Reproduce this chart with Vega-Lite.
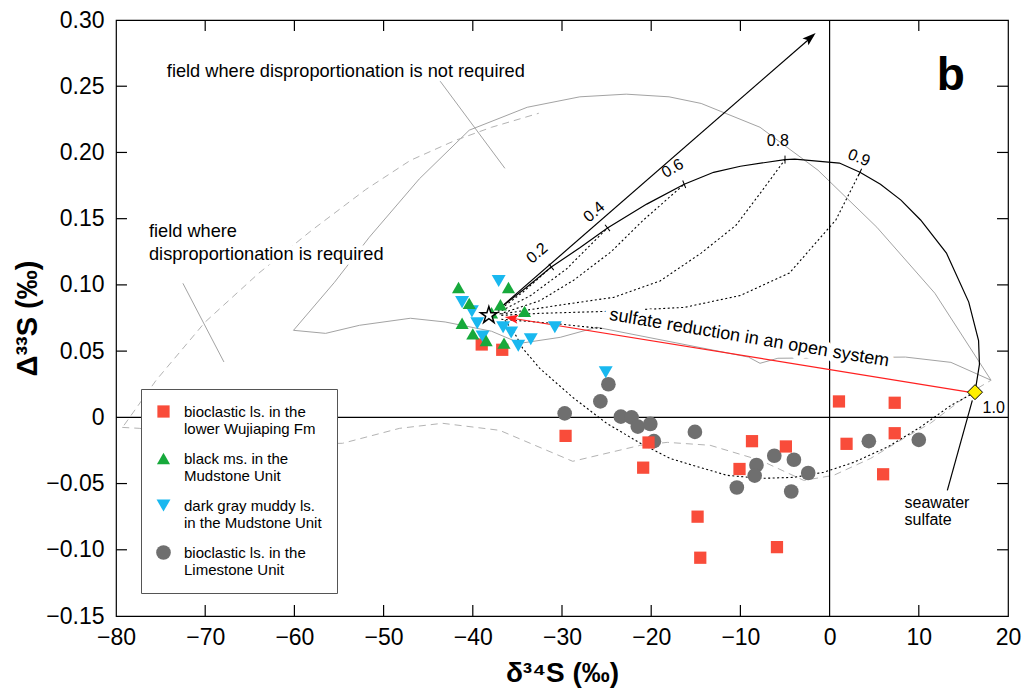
{
  "$schema": "https://vega.github.io/schema/vega-lite/v6.json",
  "width": 892,
  "height": 596,
  "autosize": {"type": "none"},
  "padding": {"left": 116, "top": 20, "right": 15, "bottom": 75},
  "background": "white",
  "config": {
    "font": "Liberation Sans",
    "view": {"stroke": "black", "strokeWidth": 1.2},
    "axis": {"grid": false, "domain": false, "labelColor": "black", "tickColor": "black", "titleColor": "black", "labelFont": "Liberation Sans", "titleFont": "Liberation Sans"},
    "text": {"font": "Liberation Sans"}
  },
  "resolve": {"axis": {"x": "independent", "y": "independent"}, "scale": {"x": "shared", "y": "shared"}},
  "datasets": {
    "pts": [
      {"g": "bioclastic ls. in the|Limestone Unit", "x": -24.8, "y": 0.025},
      {"g": "bioclastic ls. in the|Limestone Unit", "x": -25.7, "y": 0.012},
      {"g": "bioclastic ls. in the|Limestone Unit", "x": -29.7, "y": 0.003},
      {"g": "bioclastic ls. in the|Limestone Unit", "x": -23.4, "y": 0.0005},
      {"g": "bioclastic ls. in the|Limestone Unit", "x": -22.2, "y": 0.0},
      {"g": "bioclastic ls. in the|Limestone Unit", "x": -21.5, "y": -0.007},
      {"g": "bioclastic ls. in the|Limestone Unit", "x": -20.1, "y": -0.005},
      {"g": "bioclastic ls. in the|Limestone Unit", "x": -19.7, "y": -0.018},
      {"g": "bioclastic ls. in the|Limestone Unit", "x": -15.1, "y": -0.011},
      {"g": "bioclastic ls. in the|Limestone Unit", "x": -6.2, "y": -0.029},
      {"g": "bioclastic ls. in the|Limestone Unit", "x": -4.0, "y": -0.032},
      {"g": "bioclastic ls. in the|Limestone Unit", "x": -8.2, "y": -0.036},
      {"g": "bioclastic ls. in the|Limestone Unit", "x": -8.4, "y": -0.044},
      {"g": "bioclastic ls. in the|Limestone Unit", "x": -2.4, "y": -0.042},
      {"g": "bioclastic ls. in the|Limestone Unit", "x": -10.4, "y": -0.053},
      {"g": "bioclastic ls. in the|Limestone Unit", "x": -4.3, "y": -0.056},
      {"g": "bioclastic ls. in the|Limestone Unit", "x": 4.4, "y": -0.018},
      {"g": "bioclastic ls. in the|Limestone Unit", "x": 10.0, "y": -0.017},
      {"g": "bioclastic ls. in the|lower Wujiaping Fm", "x": -39.0, "y": 0.055},
      {"g": "bioclastic ls. in the|lower Wujiaping Fm", "x": -36.7, "y": 0.051},
      {"g": "bioclastic ls. in the|lower Wujiaping Fm", "x": -29.6, "y": -0.014},
      {"g": "bioclastic ls. in the|lower Wujiaping Fm", "x": -20.3, "y": -0.019},
      {"g": "bioclastic ls. in the|lower Wujiaping Fm", "x": -20.9, "y": -0.038},
      {"g": "bioclastic ls. in the|lower Wujiaping Fm", "x": -14.8, "y": -0.075},
      {"g": "bioclastic ls. in the|lower Wujiaping Fm", "x": -14.5, "y": -0.106},
      {"g": "bioclastic ls. in the|lower Wujiaping Fm", "x": -8.7, "y": -0.018},
      {"g": "bioclastic ls. in the|lower Wujiaping Fm", "x": -4.9, "y": -0.022},
      {"g": "bioclastic ls. in the|lower Wujiaping Fm", "x": -10.1, "y": -0.039},
      {"g": "bioclastic ls. in the|lower Wujiaping Fm", "x": -5.9, "y": -0.098},
      {"g": "bioclastic ls. in the|lower Wujiaping Fm", "x": 1.05, "y": 0.012},
      {"g": "bioclastic ls. in the|lower Wujiaping Fm", "x": 7.3, "y": 0.011},
      {"g": "bioclastic ls. in the|lower Wujiaping Fm", "x": 1.9, "y": -0.020},
      {"g": "bioclastic ls. in the|lower Wujiaping Fm", "x": 7.3, "y": -0.012},
      {"g": "bioclastic ls. in the|lower Wujiaping Fm", "x": 6.0, "y": -0.043},
      {"g": "dark gray muddy ls.|in the Mudstone Unit", "x": -37.1, "y": 0.103},
      {"g": "dark gray muddy ls.|in the Mudstone Unit", "x": -41.2, "y": 0.087},
      {"g": "dark gray muddy ls.|in the Mudstone Unit", "x": -40.1, "y": 0.080},
      {"g": "dark gray muddy ls.|in the Mudstone Unit", "x": -39.5, "y": 0.071},
      {"g": "dark gray muddy ls.|in the Mudstone Unit", "x": -38.9, "y": 0.061},
      {"g": "black ms. in the|Mudstone Unit", "x": -41.6, "y": 0.098},
      {"g": "black ms. in the|Mudstone Unit", "x": -36.0, "y": 0.098},
      {"g": "black ms. in the|Mudstone Unit", "x": -40.4, "y": 0.086},
      {"g": "black ms. in the|Mudstone Unit", "x": -36.9, "y": 0.085},
      {"g": "black ms. in the|Mudstone Unit", "x": -34.2, "y": 0.080},
      {"g": "black ms. in the|Mudstone Unit", "x": -41.2, "y": 0.071},
      {"g": "black ms. in the|Mudstone Unit", "x": -40.0, "y": 0.063},
      {"g": "black ms. in the|Mudstone Unit", "x": -38.5, "y": 0.058},
      {"g": "black ms. in the|Mudstone Unit", "x": -37.9, "y": 0.079},
      {"g": "dark gray muddy ls.|in the Mudstone Unit", "x": -36.6, "y": 0.068},
      {"g": "dark gray muddy ls.|in the Mudstone Unit", "x": -35.7, "y": 0.064},
      {"g": "dark gray muddy ls.|in the Mudstone Unit", "x": -34.9, "y": 0.054},
      {"g": "dark gray muddy ls.|in the Mudstone Unit", "x": -33.5, "y": 0.059},
      {"g": "dark gray muddy ls.|in the Mudstone Unit", "x": -30.8, "y": 0.068},
      {"g": "dark gray muddy ls.|in the Mudstone Unit", "x": -25.1, "y": 0.034},
      {"g": "black ms. in the|Mudstone Unit", "x": -36.5, "y": 0.056}
    ],
    "gray": [
      {"c": "upper", "x": -60.1, "y": 0.0657},
      {"c": "upper", "x": -55.5, "y": 0.102},
      {"c": "upper", "x": -51.6, "y": 0.136},
      {"c": "upper", "x": -46.0, "y": 0.18},
      {"c": "upper", "x": -40.4, "y": 0.2168},
      {"c": "upper", "x": -33.9, "y": 0.2341},
      {"c": "upper", "x": -28.0, "y": 0.242},
      {"c": "upper", "x": -22.8, "y": 0.244},
      {"c": "upper", "x": -18.0, "y": 0.242},
      {"c": "upper", "x": -14.4, "y": 0.237},
      {"c": "upper", "x": -7.8, "y": 0.219},
      {"c": "upper", "x": -1.3, "y": 0.1866},
      {"c": "upper", "x": 5.3, "y": 0.1435},
      {"c": "upper", "x": 11.8, "y": 0.0937},
      {"c": "upper", "x": 18.1, "y": 0.028},
      {"c": "lower", "x": -60.1, "y": 0.0657},
      {"c": "lower", "x": -56.5, "y": 0.0634},
      {"c": "lower", "x": -52.7, "y": 0.0695},
      {"c": "lower", "x": -47.0, "y": 0.0748},
      {"c": "lower", "x": -43.1, "y": 0.072},
      {"c": "lower", "x": -37.9, "y": 0.065},
      {"c": "lower", "x": -34.7, "y": 0.0559},
      {"c": "lower", "x": -30.2, "y": 0.0604},
      {"c": "lower", "x": -26.1, "y": 0.068},
      {"c": "lower", "x": -9.1, "y": 0.0455},
      {"c": "lower", "x": -7.8, "y": 0.0408},
      {"c": "lower", "x": -5.8, "y": 0.0446},
      {"c": "lower", "x": 8.5, "y": 0.0455},
      {"c": "lower", "x": 13.6, "y": 0.0415},
      {"c": "lower", "x": 18.1, "y": 0.028},
      {"c": "lead1", "x": -43.9, "y": 0.256},
      {"c": "lead1", "x": -36.4, "y": 0.188},
      {"c": "lead2", "x": -72.5, "y": 0.1012},
      {"c": "lead2", "x": -67.9, "y": 0.0418}
    ],
    "dashed": [
      {"c": "up", "x": -79.1, "y": -0.006},
      {"c": "up", "x": -75.5, "y": 0.028},
      {"c": "up", "x": -70.0, "y": 0.072},
      {"c": "up", "x": -64.0, "y": 0.1088},
      {"c": "up", "x": -58.1, "y": 0.141},
      {"c": "up", "x": -52.0, "y": 0.172},
      {"c": "up", "x": -47.0, "y": 0.194},
      {"c": "up", "x": -42.0, "y": 0.209},
      {"c": "up", "x": -37.9, "y": 0.219},
      {"c": "up", "x": -32.6, "y": 0.2296},
      {"c": "lo", "x": -79.3, "y": -0.0076},
      {"c": "lo", "x": -77.4, "y": -0.0083},
      {"c": "lo", "x": -65.1, "y": -0.021},
      {"c": "lo", "x": -54.6, "y": -0.0196},
      {"c": "lo", "x": -48.2, "y": -0.0083},
      {"c": "lo", "x": -43.4, "y": -0.0045},
      {"c": "lo", "x": -37.0, "y": -0.0098},
      {"c": "lo", "x": -28.8, "y": -0.0332},
      {"c": "lo", "x": -21.2, "y": -0.0211},
      {"c": "lo", "x": -18.2, "y": -0.0189},
      {"c": "lo", "x": -13.4, "y": -0.0211},
      {"c": "lo", "x": -7.75, "y": -0.0325},
      {"c": "lo", "x": -2.9, "y": -0.0476},
      {"c": "lo", "x": 0.45, "y": -0.0438},
      {"c": "lo", "x": 4.6, "y": -0.031},
      {"c": "lo", "x": 8.3, "y": -0.0159},
      {"c": "lo", "x": 11.3, "y": -0.0045},
      {"c": "lo", "x": 16.2, "y": 0.0204},
      {"c": "lo", "x": 18.1, "y": 0.028}
    ],
    "dotted": [
      {"c": "d02", "x": -37.2, "y": 0.080},
      {"c": "d02", "x": -34.3, "y": 0.095},
      {"c": "d02", "x": -31.2, "y": 0.1135},
      {"c": "d04", "x": -37.2, "y": 0.079},
      {"c": "d04", "x": -33.5, "y": 0.092},
      {"c": "d04", "x": -29.5, "y": 0.112},
      {"c": "d04", "x": -24.9, "y": 0.143},
      {"c": "d06", "x": -37.0, "y": 0.078},
      {"c": "d06", "x": -32.5, "y": 0.088},
      {"c": "d06", "x": -28.7, "y": 0.1035},
      {"c": "d06", "x": -24.5, "y": 0.125},
      {"c": "d06", "x": -20.9, "y": 0.1488},
      {"c": "d06", "x": -16.3, "y": 0.176},
      {"c": "d08", "x": -36.8, "y": 0.078},
      {"c": "d08", "x": -30.0, "y": 0.085},
      {"c": "d08", "x": -24.2, "y": 0.0906},
      {"c": "d08", "x": -19.0, "y": 0.103},
      {"c": "d08", "x": -14.4, "y": 0.124},
      {"c": "d08", "x": -10.5, "y": 0.145},
      {"c": "d08", "x": -7.8, "y": 0.169},
      {"c": "d08", "x": -5.0, "y": 0.1946},
      {"c": "d09", "x": -36.8, "y": 0.077},
      {"c": "d09", "x": -32.6, "y": 0.0785},
      {"c": "d09", "x": -25.0, "y": 0.080},
      {"c": "d09", "x": -16.3, "y": 0.083},
      {"c": "d09", "x": -10.0, "y": 0.092},
      {"c": "d09", "x": -4.5, "y": 0.109},
      {"c": "d09", "x": 0.7, "y": 0.149},
      {"c": "d09", "x": 3.4, "y": 0.185},
      {"c": "d10", "x": -36.8, "y": 0.074},
      {"c": "d10", "x": -31.0, "y": 0.071},
      {"c": "d10", "x": -25.5, "y": 0.067},
      {"c": "loop", "x": -36.4, "y": 0.0733},
      {"c": "loop", "x": -35.3, "y": 0.0634},
      {"c": "loop", "x": -34.4, "y": 0.0521},
      {"c": "loop", "x": -32.5, "y": 0.037},
      {"c": "loop", "x": -28.8, "y": 0.0151},
      {"c": "loop", "x": -25.0, "y": -0.0045},
      {"c": "loop", "x": -21.2, "y": -0.0196},
      {"c": "loop", "x": -17.9, "y": -0.031},
      {"c": "loop", "x": -15.3, "y": -0.0363},
      {"c": "loop", "x": -11.5, "y": -0.0438},
      {"c": "loop", "x": -7.75, "y": -0.0461},
      {"c": "loop", "x": -4.0, "y": -0.0453},
      {"c": "loop", "x": -0.67, "y": -0.0415},
      {"c": "loop", "x": 2.7, "y": -0.034},
      {"c": "loop", "x": 6.5, "y": -0.0224},
      {"c": "loop", "x": 10.2, "y": -0.0073},
      {"c": "loop", "x": 13.6, "y": 0.009},
      {"c": "loop", "x": 16.3, "y": 0.0189}
    ],
    "black": [
      {"c": "curve", "x": -37.0, "y": 0.0823},
      {"c": "curve", "x": -34.0, "y": 0.098},
      {"c": "curve", "x": -31.2, "y": 0.1135},
      {"c": "curve", "x": -28.0, "y": 0.128},
      {"c": "curve", "x": -24.9, "y": 0.143},
      {"c": "curve", "x": -20.5, "y": 0.161},
      {"c": "curve", "x": -16.3, "y": 0.176},
      {"c": "curve", "x": -13.0, "y": 0.185},
      {"c": "curve", "x": -10.0, "y": 0.1896},
      {"c": "curve", "x": -5.0, "y": 0.1946},
      {"c": "curve", "x": -3.9, "y": 0.195},
      {"c": "curve", "x": 1.1, "y": 0.192},
      {"c": "curve", "x": 3.4, "y": 0.185},
      {"c": "curve", "x": 5.7, "y": 0.176},
      {"c": "curve", "x": 8.0, "y": 0.164},
      {"c": "curve", "x": 10.2, "y": 0.149},
      {"c": "curve", "x": 13.1, "y": 0.124},
      {"c": "curve", "x": 15.6, "y": 0.087},
      {"c": "curve", "x": 16.7, "y": 0.058},
      {"c": "curve", "x": 16.8, "y": 0.040},
      {"c": "curve", "x": 16.3, "y": 0.019},
      {"c": "arrow", "x": -37.0, "y": 0.0823},
      {"c": "arrow", "x": -1.8, "y": 0.2885},
      {"c": "lead", "x": 16.0, "y": 0.0128},
      {"c": "lead", "x": 13.2, "y": -0.0551},
      {"c": "t01", "x": -70, "y": 0.3}, {"c": "t01", "x": -70, "y": 0.2917},
      {"c": "t02", "x": -60, "y": 0.3}, {"c": "t02", "x": -60, "y": 0.2917},
      {"c": "t03", "x": -50, "y": 0.3}, {"c": "t03", "x": -50, "y": 0.2917},
      {"c": "t04", "x": -40, "y": 0.3}, {"c": "t04", "x": -40, "y": 0.2917},
      {"c": "t05", "x": -30, "y": 0.3}, {"c": "t05", "x": -30, "y": 0.2917},
      {"c": "t06", "x": -20, "y": 0.3}, {"c": "t06", "x": -20, "y": 0.2917},
      {"c": "t07", "x": -10, "y": 0.3}, {"c": "t07", "x": -10, "y": 0.2917},
      {"c": "t08", "x": 10, "y": 0.3}, {"c": "t08", "x": 10, "y": 0.2917},
      {"c": "b01", "x": -70, "y": -0.15}, {"c": "b01", "x": -70, "y": -0.1417},
      {"c": "b02", "x": -60, "y": -0.15}, {"c": "b02", "x": -60, "y": -0.1417},
      {"c": "b03", "x": -50, "y": -0.15}, {"c": "b03", "x": -50, "y": -0.1417},
      {"c": "b04", "x": -40, "y": -0.15}, {"c": "b04", "x": -40, "y": -0.1417},
      {"c": "b05", "x": -30, "y": -0.15}, {"c": "b05", "x": -30, "y": -0.1417},
      {"c": "b06", "x": -20, "y": -0.15}, {"c": "b06", "x": -20, "y": -0.1417},
      {"c": "b07", "x": -10, "y": -0.15}, {"c": "b07", "x": -10, "y": -0.1417},
      {"c": "b08", "x": 10, "y": -0.15}, {"c": "b08", "x": 10, "y": -0.1417},
      {"c": "l01", "x": -80, "y": -0.1}, {"c": "l01", "x": -78.77, "y": -0.1},
      {"c": "l02", "x": -80, "y": -0.05}, {"c": "l02", "x": -78.77, "y": -0.05},
      {"c": "l03", "x": -80, "y": 0.05}, {"c": "l03", "x": -78.77, "y": 0.05},
      {"c": "l04", "x": -80, "y": 0.1}, {"c": "l04", "x": -78.77, "y": 0.1},
      {"c": "l05", "x": -80, "y": 0.15}, {"c": "l05", "x": -78.77, "y": 0.15},
      {"c": "l06", "x": -80, "y": 0.2}, {"c": "l06", "x": -78.77, "y": 0.2},
      {"c": "l07", "x": -80, "y": 0.25}, {"c": "l07", "x": -78.77, "y": 0.25},
      {"c": "r01", "x": 20, "y": -0.1}, {"c": "r01", "x": 18.77, "y": -0.1},
      {"c": "r02", "x": 20, "y": -0.05}, {"c": "r02", "x": 18.77, "y": -0.05},
      {"c": "r03", "x": 20, "y": 0.05}, {"c": "r03", "x": 18.77, "y": 0.05},
      {"c": "r04", "x": 20, "y": 0.1}, {"c": "r04", "x": 18.77, "y": 0.1},
      {"c": "r05", "x": 20, "y": 0.15}, {"c": "r05", "x": 18.77, "y": 0.15},
      {"c": "r06", "x": 20, "y": 0.2}, {"c": "r06", "x": 18.77, "y": 0.2},
      {"c": "r07", "x": 20, "y": 0.25}, {"c": "r07", "x": 18.77, "y": 0.25}
    ],
    "red": [
      {"x": -35.6, "y": 0.0748},
      {"x": 15.8, "y": 0.0189}
    ],
    "ann": [
      {"g": "field", "x": -74.3, "y": 0.2606, "t": "field where disproportionation is not required"},
      {"g": "field", "x": -76.3, "y": 0.1397, "t": "field where"},
      {"g": "field", "x": -76.3, "y": 0.1224, "t": "disproportionation is required"},
      {"g": "sulfate", "x": -9.0, "y": 0.0597, "t": "sulfate reduction in an open system"},
      {"g": "r41", "x": -32.8, "y": 0.124, "t": "0.2"},
      {"g": "r41", "x": -26.4, "y": 0.155, "t": "0.4"},
      {"g": "r30", "x": -17.6, "y": 0.188, "t": "0.6"},
      {"g": "r0", "x": -5.8, "y": 0.209, "t": "0.8"},
      {"g": "r0", "x": 18.4, "y": 0.0068, "t": "1.0"},
      {"g": "r22", "x": 3.3, "y": 0.196, "t": "0.9"},
      {"g": "left16", "x": 8.4, "y": -0.0647, "t": "seawater"},
      {"g": "left16", "x": 8.4, "y": -0.0778, "t": "sulfate"},
      {"g": "b", "x": 13.6, "y": 0.258, "t": "b"}
    ]
  },
  "layer": [
    {
      "data": {"name": "gray"},
      "mark": {"type": "line", "color": "#a3a3a3", "strokeWidth": 1},
      "encoding": {
        "x": {"field": "x", "type": "quantitative", "scale": {"domain": [-80, 20], "nice": false, "zero": false},
          "axis": {"orient": "bottom", "values": [-80, -70, -60, -50, -40, -30, -20, -10, 0, 10, 20],
            "labelExpr": "datum.value < 0 ? '−' + format(-datum.value, 'd') + '\u2002' : format(datum.value, 'd')",
            "labelFontSize": 23, "ticks": false, "tickSize": 0, "labelPadding": 10, "labelFlush": false, "labelOverlap": false,
            "title": "δ³⁴S (‰)", "titleFontSize": 28, "titleFontWeight": "bold", "titlePadding": 10}},
        "y": {"field": "y", "type": "quantitative", "scale": {"domain": [-0.15, 0.3], "nice": false, "zero": false},
          "axis": {"orient": "left", "values": [-0.15, -0.1, -0.05, 0, 0.05, 0.1, 0.15, 0.2, 0.25, 0.3],
            "labelExpr": "datum.value == 0 ? '0' : (datum.value < 0 ? '−' + format(-datum.value, '.2f') : format(datum.value, '.2f'))",
            "labelFontSize": 23, "ticks": false, "tickSize": 0, "labelPadding": 12, "labelFlush": false, "labelOverlap": false,
            "title": "Δ³³S (‰)", "titleFontSize": 29, "titleFontWeight": "bold", "titlePadding": 3}},
        "detail": {"field": "c"},
        "order": {"value": null}
      }
    },
    {
      "data": {"name": "dashed"},
      "mark": {"type": "line", "color": "#b3b3b3", "strokeWidth": 1, "strokeDash": [7, 5]},
      "encoding": {
        "x": {"field": "x", "type": "quantitative", "axis": null},
        "y": {"field": "y", "type": "quantitative", "axis": null},
        "detail": {"field": "c"},
        "order": {"value": null}
      }
    },
    {
      "data": {"values": [{}]},
      "mark": {"type": "rule", "color": "black", "strokeWidth": 1.2},
      "encoding": {"y": {"datum": 0, "type": "quantitative", "axis": null}}
    },
    {
      "data": {"values": [{}]},
      "mark": {"type": "rule", "color": "black", "strokeWidth": 1.2},
      "encoding": {"x": {"datum": 0, "type": "quantitative", "axis": null}}
    },
    {
      "data": {"name": "dotted"},
      "mark": {"type": "line", "color": "black", "strokeWidth": 1.1, "strokeDash": [2, 2.5]},
      "encoding": {
        "x": {"field": "x", "type": "quantitative", "axis": null},
        "y": {"field": "y", "type": "quantitative", "axis": null},
        "detail": {"field": "c"},
        "order": {"value": null}
      }
    },
    {
      "data": {"name": "ann"},
      "transform": [{"filter": "datum.g == 'field'"}],
      "mark": {"type": "text", "align": "left", "baseline": "middle", "fontSize": 18.2, "stroke": "white", "strokeWidth": 9, "fill": "white", "strokeJoin": "round"},
      "encoding": {
        "x": {"field": "x", "type": "quantitative", "axis": null},
        "y": {"field": "y", "type": "quantitative", "axis": null},
        "text": {"field": "t"}
      }
    },
    {
      "data": {"name": "ann"},
      "transform": [{"filter": "datum.g == 'sulfate'"}],
      "mark": {"type": "text", "align": "center", "baseline": "middle", "fontSize": 18, "angle": 9.5, "stroke": "white", "strokeWidth": 11, "fill": "white", "strokeJoin": "round"},
      "encoding": {
        "x": {"field": "x", "type": "quantitative", "axis": null},
        "y": {"field": "y", "type": "quantitative", "axis": null},
        "text": {"field": "t"}
      }
    },
    {
      "data": {"name": "black"},
      "mark": {"type": "line", "color": "black", "strokeWidth": 1.2},
      "encoding": {
        "x": {"field": "x", "type": "quantitative", "axis": null},
        "y": {"field": "y", "type": "quantitative", "axis": null},
        "detail": {"field": "c"},
        "order": {"value": null}
      }
    },
    {
      "data": {"name": "red"},
      "mark": {"type": "line", "color": "#ff2020", "strokeWidth": 1.2},
      "encoding": {
        "x": {"field": "x", "type": "quantitative", "axis": null},
        "y": {"field": "y", "type": "quantitative", "axis": null}
      }
    },
    {
      "data": {"values": [{"x": -31.2, "y": 0.1135}, {"x": -24.9, "y": 0.143}]},
      "mark": {"type": "point", "shape": "M0,-1L0,1", "filled": false, "stroke": "black", "strokeWidth": 1, "size": 64, "angle": -38, "opacity": 1},
      "encoding": {
        "x": {"field": "x", "type": "quantitative", "axis": null},
        "y": {"field": "y", "type": "quantitative", "axis": null}
      }
    },
    {
      "data": {"values": [{"x": -16.3, "y": 0.176}]},
      "mark": {"type": "point", "shape": "M0,-1L0,1", "filled": false, "stroke": "black", "strokeWidth": 1, "size": 64, "angle": -22, "opacity": 1},
      "encoding": {
        "x": {"field": "x", "type": "quantitative", "axis": null},
        "y": {"field": "y", "type": "quantitative", "axis": null}
      }
    },
    {
      "data": {"values": [{"x": -5.0, "y": 0.1946}]},
      "mark": {"type": "point", "shape": "M0,-1L0,1", "filled": false, "stroke": "black", "strokeWidth": 1, "size": 64, "angle": 0, "opacity": 1},
      "encoding": {
        "x": {"field": "x", "type": "quantitative", "axis": null},
        "y": {"field": "y", "type": "quantitative", "axis": null}
      }
    },
    {
      "data": {"values": [{"x": 3.4, "y": 0.185}]},
      "mark": {"type": "point", "shape": "M0,-1L0,1", "filled": false, "stroke": "black", "strokeWidth": 1, "size": 64, "angle": 25, "opacity": 1},
      "encoding": {
        "x": {"field": "x", "type": "quantitative", "axis": null},
        "y": {"field": "y", "type": "quantitative", "axis": null}
      }
    },
    {
      "data": {"name": "pts"},
      "mark": {"type": "point", "filled": true, "opacity": 1, "strokeWidth": 0},
      "encoding": {
        "x": {"field": "x", "type": "quantitative", "axis": null},
        "y": {"field": "y", "type": "quantitative", "axis": null},
        "color": {"field": "g", "type": "nominal",
          "scale": {"domain": ["bioclastic ls. in the|lower Wujiaping Fm", "black ms. in the|Mudstone Unit", "dark gray muddy ls.|in the Mudstone Unit", "bioclastic ls. in the|Limestone Unit"], "range": ["#f94c3a", "#17a93b", "#19b8ef", "#6f6f6f"]},
          "legend": {"orient": "none", "legendX": 25, "legendY": 369, "title": null, "labelExpr": "split(datum.label, '|')", "padding": 15, "strokeColor": "#555555", "fillColor": "white", "labelFontSize": 15, "labelFont": "Liberation Sans", "labelColor": "black", "symbolSize": 140, "rowPadding": 14, "labelOffset": 13, "symbolStrokeWidth": 0, "labelLimit": 0, "symbolOpacity": 1}},
        "shape": {"field": "g", "type": "nominal",
          "scale": {"domain": ["bioclastic ls. in the|lower Wujiaping Fm", "black ms. in the|Mudstone Unit", "dark gray muddy ls.|in the Mudstone Unit", "bioclastic ls. in the|Limestone Unit"], "range": ["square", "triangle-up", "triangle-down", "circle"]},
          "legend": {"orient": "none", "legendX": 25, "legendY": 369, "title": null, "labelExpr": "split(datum.label, '|')", "padding": 15, "strokeColor": "#555555", "fillColor": "white", "labelFontSize": 15, "labelFont": "Liberation Sans", "labelColor": "black", "symbolSize": 140, "rowPadding": 14, "labelOffset": 13, "symbolStrokeWidth": 0, "labelLimit": 0, "symbolOpacity": 1}},
        "size": {"field": "g", "type": "nominal",
          "scale": {"domain": ["bioclastic ls. in the|lower Wujiaping Fm", "black ms. in the|Mudstone Unit", "dark gray muddy ls.|in the Mudstone Unit", "bioclastic ls. in the|Limestone Unit"], "range": [150, 215, 215, 175]},
          "legend": null}
      }
    },
    {
      "data": {"values": [{"x": -38.2, "y": 0.077}]},
      "mark": {"type": "point", "shape": "M0,-1L0.2245,-0.309L0.951,-0.309L0.363,0.118L0.588,0.809L0,0.382L-0.588,0.809L-0.363,0.118L-0.951,-0.309L-0.2245,-0.309Z", "filled": true, "fill": "white", "stroke": "black", "strokeWidth": 1.5, "size": 310, "opacity": 1},
      "encoding": {
        "x": {"field": "x", "type": "quantitative", "axis": null},
        "y": {"field": "y", "type": "quantitative", "axis": null}
      }
    },
    {
      "data": {"values": [{"x": 16.3, "y": 0.019}]},
      "mark": {"type": "point", "shape": "diamond", "filled": true, "fill": "#fff000", "stroke": "black", "strokeWidth": 1, "size": 225, "opacity": 1},
      "encoding": {
        "x": {"field": "x", "type": "quantitative", "axis": null},
        "y": {"field": "y", "type": "quantitative", "axis": null}
      }
    },
    {
      "data": {"values": [{"x": -2.2, "y": 0.2865}]},
      "mark": {"type": "point", "shape": "M0,-1L0.6,0.8L0,0.45L-0.6,0.8Z", "filled": true, "fill": "black", "strokeWidth": 0, "size": 225, "angle": 49, "opacity": 1},
      "encoding": {
        "x": {"field": "x", "type": "quantitative", "axis": null},
        "y": {"field": "y", "type": "quantitative", "axis": null}
      }
    },
    {
      "data": {"values": [{"x": -35.6, "y": 0.0748}]},
      "mark": {"type": "point", "shape": "M0,-1L0.6,0.8L0,0.45L-0.6,0.8Z", "filled": true, "fill": "#ff2020", "strokeWidth": 0, "size": 225, "angle": 279, "opacity": 1},
      "encoding": {
        "x": {"field": "x", "type": "quantitative", "axis": null},
        "y": {"field": "y", "type": "quantitative", "axis": null}
      }
    },
    {
      "data": {"name": "ann"},
      "transform": [{"filter": "datum.g == 'field'"}],
      "mark": {"type": "text", "align": "left", "baseline": "middle", "fontSize": 18.2, "color": "black"},
      "encoding": {
        "x": {"field": "x", "type": "quantitative", "axis": null},
        "y": {"field": "y", "type": "quantitative", "axis": null},
        "text": {"field": "t"}
      }
    },
    {
      "data": {"name": "ann"},
      "transform": [{"filter": "datum.g == 'sulfate'"}],
      "mark": {"type": "text", "align": "center", "baseline": "middle", "fontSize": 18, "angle": 9.5, "color": "black"},
      "encoding": {
        "x": {"field": "x", "type": "quantitative", "axis": null},
        "y": {"field": "y", "type": "quantitative", "axis": null},
        "text": {"field": "t"}
      }
    },
    {
      "data": {"name": "ann"},
      "transform": [{"filter": "datum.g == 'r41'"}],
      "mark": {"type": "text", "align": "center", "baseline": "middle", "fontSize": 16, "angle": -41, "color": "black"},
      "encoding": {
        "x": {"field": "x", "type": "quantitative", "axis": null},
        "y": {"field": "y", "type": "quantitative", "axis": null},
        "text": {"field": "t"}
      }
    },
    {
      "data": {"name": "ann"},
      "transform": [{"filter": "datum.g == 'r30'"}],
      "mark": {"type": "text", "align": "center", "baseline": "middle", "fontSize": 16, "angle": -30, "color": "black"},
      "encoding": {
        "x": {"field": "x", "type": "quantitative", "axis": null},
        "y": {"field": "y", "type": "quantitative", "axis": null},
        "text": {"field": "t"}
      }
    },
    {
      "data": {"name": "ann"},
      "transform": [{"filter": "datum.g == 'r0'"}],
      "mark": {"type": "text", "align": "center", "baseline": "middle", "fontSize": 16, "color": "black"},
      "encoding": {
        "x": {"field": "x", "type": "quantitative", "axis": null},
        "y": {"field": "y", "type": "quantitative", "axis": null},
        "text": {"field": "t"}
      }
    },
    {
      "data": {"name": "ann"},
      "transform": [{"filter": "datum.g == 'r22'"}],
      "mark": {"type": "text", "align": "center", "baseline": "middle", "fontSize": 16, "angle": 22, "color": "black"},
      "encoding": {
        "x": {"field": "x", "type": "quantitative", "axis": null},
        "y": {"field": "y", "type": "quantitative", "axis": null},
        "text": {"field": "t"}
      }
    },
    {
      "data": {"name": "ann"},
      "transform": [{"filter": "datum.g == 'left16'"}],
      "mark": {"type": "text", "align": "left", "baseline": "middle", "fontSize": 16, "color": "black"},
      "encoding": {
        "x": {"field": "x", "type": "quantitative", "axis": null},
        "y": {"field": "y", "type": "quantitative", "axis": null},
        "text": {"field": "t"}
      }
    },
    {
      "data": {"name": "ann"},
      "transform": [{"filter": "datum.g == 'b'"}],
      "mark": {"type": "text", "align": "center", "baseline": "middle", "fontSize": 46, "fontWeight": "bold", "color": "black"},
      "encoding": {
        "x": {"field": "x", "type": "quantitative", "axis": null},
        "y": {"field": "y", "type": "quantitative", "axis": null},
        "text": {"field": "t"}
      }
    }
  ]
}
